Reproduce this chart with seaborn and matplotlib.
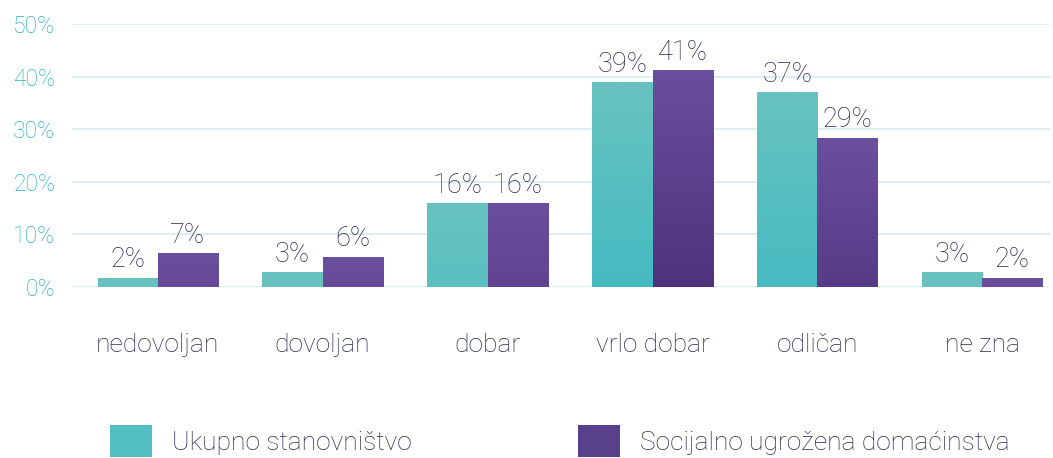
import matplotlib
matplotlib.use("Agg")
import matplotlib.pyplot as plt
import seaborn as sns
import pandas as pd
import numpy as np
from matplotlib.colors import LinearSegmentedColormap
from matplotlib.patches import Patch

# Data
categories = ["nedovoljan", "dovoljan", "dobar", "vrlo dobar", "odličan", "ne zna"]
series_names = ["Ukupno stanovništvo", "Socijalno ugrožena domaćinstva"]
ukupno = [1.7, 2.7, 15.8, 38.9, 37.0, 2.7]
socijalno = [6.3, 5.7, 15.8, 41.2, 28.3, 1.7]
ukupno_labels = ["2%", "3%", "16%", "39%", "37%", "3%"]
socijalno_labels = ["7%", "6%", "16%", "41%", "29%", "2%"]
yticks = [0, 10, 20, 30, 40, 50]

df = pd.DataFrame({
    "kategorija": categories * 2,
    "serija": [series_names[0]] * 6 + [series_names[1]] * 6,
    "vrijednost": ukupno + socijalno,
})

sns.set_style("white")
plt.rcParams["font.family"] = ["Roboto", "DejaVu Sans"]

text_color = "#262c52"
teal_top, teal_bot = "#68c3bf", "#3bb8c3"
purp_top, purp_bot = "#6b4f9f", "#472c74"

fig = plt.figure(figsize=(10.53, 4.58), dpi=100)
ax = fig.add_axes([72 / 1053, 171 / 458, (1050 - 72) / 1053, 263 / 458])

sns.barplot(data=df, x="kategorija", y="vrijednost", hue="serija",
            palette=[teal_bot, purp_bot], width=0.73, gap=0, legend=False, ax=ax)

# gradient fills
cmaps = [LinearSegmentedColormap.from_list("t", [teal_bot, teal_top]),
         LinearSegmentedColormap.from_list("p", [purp_bot, purp_top])]
grad = np.linspace(0, 1, 256).reshape(-1, 1)
bars = ax.patches[:12]
for i, bar in enumerate(bars):
    x0, w, h = bar.get_x(), bar.get_width(), bar.get_height()
    cm = cmaps[0] if i < 6 else cmaps[1]
    ax.imshow(grad * (h / 50) + (1 - h / 50), extent=[x0, x0 + w, 0, h], origin="lower",
              aspect="auto", cmap=cm, vmin=0, vmax=1, zorder=2)
    bar.set_visible(False)

# value labels
labels = ukupno_labels + socijalno_labels
for bar, lab in zip(bars, labels):
    ax.text(bar.get_x() + bar.get_width() / 2, bar.get_height() + 0.9, lab,
            ha="center", va="bottom", fontsize=19.5, fontweight="light", color=text_color)

ax.set_xlim(-0.52, 5.41)
ax.set_ylim(0, 50)
ax.set_yticks(yticks)
ax.set_yticklabels([f"{v}%" for v in yticks], fontsize=16.5, fontweight="light", color="#27b1ba")
ax.set_xticks(range(len(categories)))
ax.set_xticklabels(categories, fontsize=19, fontweight="light", color=text_color)
ax.tick_params(axis="x", length=0, pad=33)
ax.tick_params(axis="y", length=0, pad=12)
ax.set_xlabel("")
ax.set_ylabel("")
ax.grid(axis="y", color="#d3eef1", linewidth=1.2, zorder=0)
ax.set_axisbelow(True)
for s in ax.spines.values():
    s.set_visible(False)

handles = [Patch(facecolor="#52bec1", edgecolor="none"),
           Patch(facecolor="#58408a", edgecolor="none")]
fig.legend(handles, series_names, loc="lower left", bbox_to_anchor=(86 / 1053, -0.05),
           ncol=2, frameon=False, handlelength=1.6, handleheight=1.5, handletextpad=0.75,
           columnspacing=6.3, prop={"size": 19, "weight": "light"}, labelcolor=text_color)

fig.savefig("out.png", dpi=100)
